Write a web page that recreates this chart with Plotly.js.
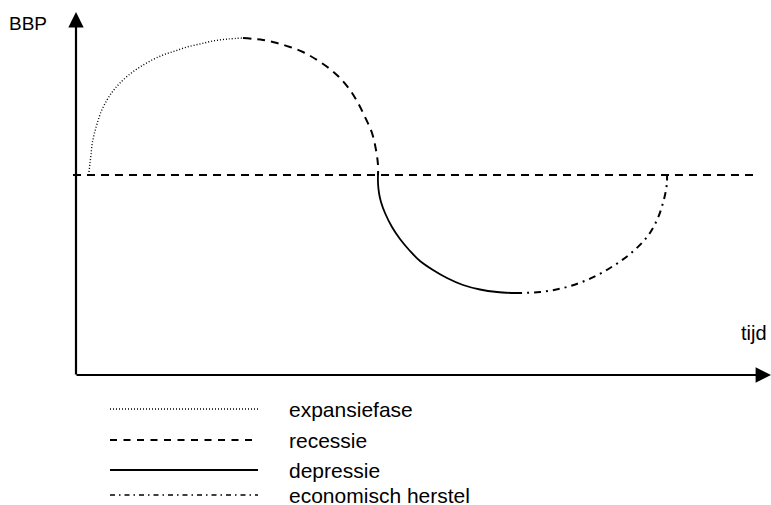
<!DOCTYPE html>
<html>
<head>
<meta charset="utf-8">
<script src="https://cdn.plot.ly/plotly-3.0.1.min.js"></script>
<style>html,body{margin:0;padding:0;background:#fff;}#chart{width:771px;height:505px;}</style>
</head>
<body>
<div id="chart"></div>
<script>
// Phases of the business cycle (x = time, y = BBP, in picture units)
var expansieX = [89, 90, 91, 92, 94, 97, 101, 107, 113, 120, 130, 140, 152, 163, 175, 187, 200, 213, 228, 243];
var expansieY = [172, 163, 155, 145, 135, 124, 112, 100, 91, 83, 74, 67, 60, 55, 51, 47, 44, 41, 39, 38];
var recessieX = [243, 263, 277, 290, 303, 317, 330, 340, 350, 358, 365, 372, 376, 378, 378];
var recessieY = [38, 40, 43, 47, 52, 60, 69, 78, 90, 103, 117, 133, 150, 165, 175];
var depressieX = [378, 378, 379, 381, 385, 392, 400, 410, 420, 433, 447, 463, 480, 497, 515];
var depressieY = [175, 183, 193, 202, 213, 227, 239, 251, 261, 270, 278, 285, 289.5, 292, 293];
var herstelX = [515, 540, 563, 587, 610, 630, 647, 657, 663, 666, 667, 667];
var herstelY = [293, 292, 288, 280, 268, 254, 237, 220, 203, 190, 182, 175];
var evenwichtX = [73, 755];
var evenwichtY = [175, 175];

var legendLabels = ['expansiefase', 'recessie', 'depressie', 'economisch herstel'];
var axisLabelY = 'BBP';
var axisLabelX = 'tijd';

var FONT = 'Liberation Sans, Arial, Helvetica, sans-serif';
var styles = [
  {dash: '1px,2px', width: 1.4},
  {dash: '8px,6px', width: 2},
  {dash: 'solid', width: 1.8},
  {dash: '7px,5px,2px,5px', width: 2}
];
var legendStyles = [
  {dash: '1px,2px', width: 1.3},
  {dash: '7px,6.5px', width: 2},
  {dash: 'solid', width: 2},
  {dash: '5px,4px,1.5px,4px', width: 1.5}
];

var curvesX = [expansieX, recessieX, depressieX, herstelX];
var curvesY = [expansieY, recessieY, depressieY, herstelY];

var traces = [];
traces.push({x: evenwichtX, y: evenwichtY, mode: 'lines', hoverinfo: 'skip',
  line: {color: '#000', width: 2, dash: '8px,6px'}, showlegend: false});
for (var i = 0; i < 4; i++) {
  traces.push({x: curvesX[i], y: curvesY[i], mode: 'lines', hoverinfo: 'skip', name: legendLabels[i],
    line: {color: '#000', width: styles[i].width, dash: styles[i].dash, shape: 'spline', smoothing: 1},
    showlegend: false});
}

// hand-drawn legend below the plot
var legX0 = 110, legX1 = 258, legTextX = 287;
var legRowsY = [409, 440, 470, 495];
var annotations = [];
for (var j = 0; j < 4; j++) {
  traces.push({x: [legX0, legX1], y: [legRowsY[j], legRowsY[j]], mode: 'lines', hoverinfo: 'skip',
    line: {color: '#000', width: legendStyles[j].width, dash: legendStyles[j].dash}, showlegend: false});
  annotations.push({x: legTextX, y: legRowsY[j], xref: 'x', yref: 'y', text: legendLabels[j],
    showarrow: false, xanchor: 'left', yanchor: 'middle',
    font: {family: FONT, size: 21, color: '#000'}});
}

// axes with arrows
annotations.push({x: 76, y: 12, ax: 76, ay: 376, xref: 'x', yref: 'y', axref: 'x', ayref: 'y',
  text: '', showarrow: true, arrowhead: 2, arrowsize: 1.4, arrowwidth: 2.2, arrowcolor: '#000', standoff: 0, startstandoff: 0});
annotations.push({x: 771, y: 375, ax: 75, ay: 375, xref: 'x', yref: 'y', axref: 'x', ayref: 'y',
  text: '', showarrow: true, arrowhead: 2, arrowsize: 1.4, arrowwidth: 2.2, arrowcolor: '#000', standoff: 0, startstandoff: 0});
annotations.push({x: 7, y: 23, xref: 'x', yref: 'y', text: axisLabelY, showarrow: false,
  xanchor: 'left', yanchor: 'middle', font: {family: FONT, size: 19, color: '#000'}});
annotations.push({x: 769, y: 333, xref: 'x', yref: 'y', text: axisLabelX, showarrow: false,
  xanchor: 'right', yanchor: 'middle', font: {family: FONT, size: 20, color: '#000'}});

var layout = {
  width: 771, height: 505,
  margin: {l: 0, r: 0, t: 0, b: 0},
  paper_bgcolor: '#fff', plot_bgcolor: '#fff',
  xaxis: {range: [0, 771], visible: false, fixedrange: true},
  yaxis: {range: [505, 0], visible: false, fixedrange: true},
  annotations: annotations,
  showlegend: false
};

Plotly.newPlot('chart', traces, layout, {staticPlot: true, displayModeBar: false});
</script>
</body>
</html>
